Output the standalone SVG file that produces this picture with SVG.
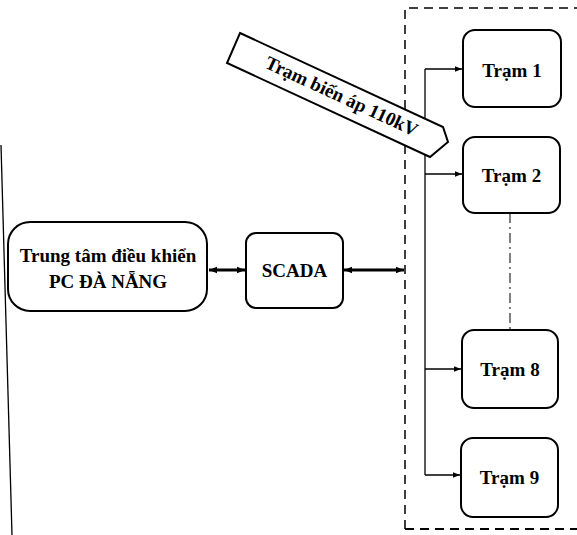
<svg xmlns="http://www.w3.org/2000/svg" width="577" height="535" viewBox="0 0 577 535">
<defs>
<style>
.box{fill:#fff;stroke:#000;stroke-width:2}
.t{font-family:"Liberation Serif","Times New Roman",serif;font-weight:bold;fill:#000;text-anchor:middle}
.ln{stroke:#000;stroke-width:1.3;fill:none}
.dbl{stroke:#000;stroke-width:3;fill:none}
</style>
<marker id="ah" viewBox="0 0 10 10" refX="10" refY="5" markerWidth="7" markerHeight="7" orient="auto" markerUnits="userSpaceOnUse">
<path d="M0,1 L10,5 L0,9 Z" fill="#000"/>
</marker>
<marker id="dh" viewBox="0 0 10 10" refX="10" refY="5" markerWidth="9" markerHeight="8" orient="auto-start-reverse" markerUnits="userSpaceOnUse">
<path d="M0,1 L10,5 L0,9 Z" fill="#000"/>
</marker>
</defs>
<rect width="577" height="535" fill="#fff"/>
<line x1="1" y1="145" x2="12" y2="535" stroke="#000" stroke-width="1.3"/>
<path d="M405,529 L405,8 L577,8" fill="none" stroke="#000" stroke-width="1.5" stroke-dasharray="9,6"/>
<line x1="405" y1="529" x2="577" y2="529" stroke="#000" stroke-width="2" stroke-dasharray="9,6"/>
<g id="connectors">
<path class="ln" d="M425,475 L425,69"/>
<line class="ln" x1="425" y1="69" x2="462" y2="69" marker-end="url(#ah)"/>
<line class="ln" x1="425" y1="174" x2="462" y2="174" marker-end="url(#ah)"/>
<line class="ln" x1="425" y1="369" x2="461" y2="369" marker-end="url(#ah)"/>
<line class="ln" x1="425" y1="475" x2="460" y2="475" marker-end="url(#ah)"/>
<line x1="510" y1="213" x2="510" y2="330" stroke="#000" stroke-width="1" stroke-dasharray="10,4,2,4"/>
<line class="dbl" x1="209" y1="270" x2="245" y2="270" marker-start="url(#dh)" marker-end="url(#dh)"/>
<line class="dbl" x1="344" y1="270" x2="404" y2="270" marker-start="url(#dh)" marker-end="url(#dh)"/>
</g>
<g id="banner">
<polygon points="240,33 443,127 448,142 430,157 227,63" fill="#fff" stroke="#000" stroke-width="2"/>
<text class="t" font-size="19" transform="translate(339,102) rotate(24.8)">Trạm biến áp 110kV</text>
</g>
<g id="center">
<rect class="box" x="8" y="222" width="199" height="89" rx="22"/>
<text class="t" font-size="19" x="108" y="262">Trung tâm điều khiển</text>
<text class="t" font-size="19" x="108" y="288">PC ĐÀ NẴNG</text>
</g>
<g id="scada">
<rect class="box" x="246" y="233" width="97" height="75" rx="10"/>
<text class="t" font-size="19" x="294.5" y="277">SCADA</text>
</g>
<g id="tram1">
<rect class="box" x="463" y="30" width="98" height="77" rx="12"/>
<text class="t" font-size="19" x="512" y="77">Trạm 1</text>
</g>
<g id="tram2">
<rect class="box" x="463" y="137" width="97" height="76" rx="12"/>
<text class="t" font-size="19" x="511.5" y="182">Trạm 2</text>
</g>
<g id="tram8">
<rect class="box" x="462" y="330" width="96" height="78" rx="12"/>
<text class="t" font-size="19" x="510" y="376">Trạm 8</text>
</g>
<g id="tram9">
<rect class="box" x="461" y="438" width="97" height="79" rx="12"/>
<text class="t" font-size="19" x="509.5" y="484">Trạm 9</text>
</g>
</svg>
